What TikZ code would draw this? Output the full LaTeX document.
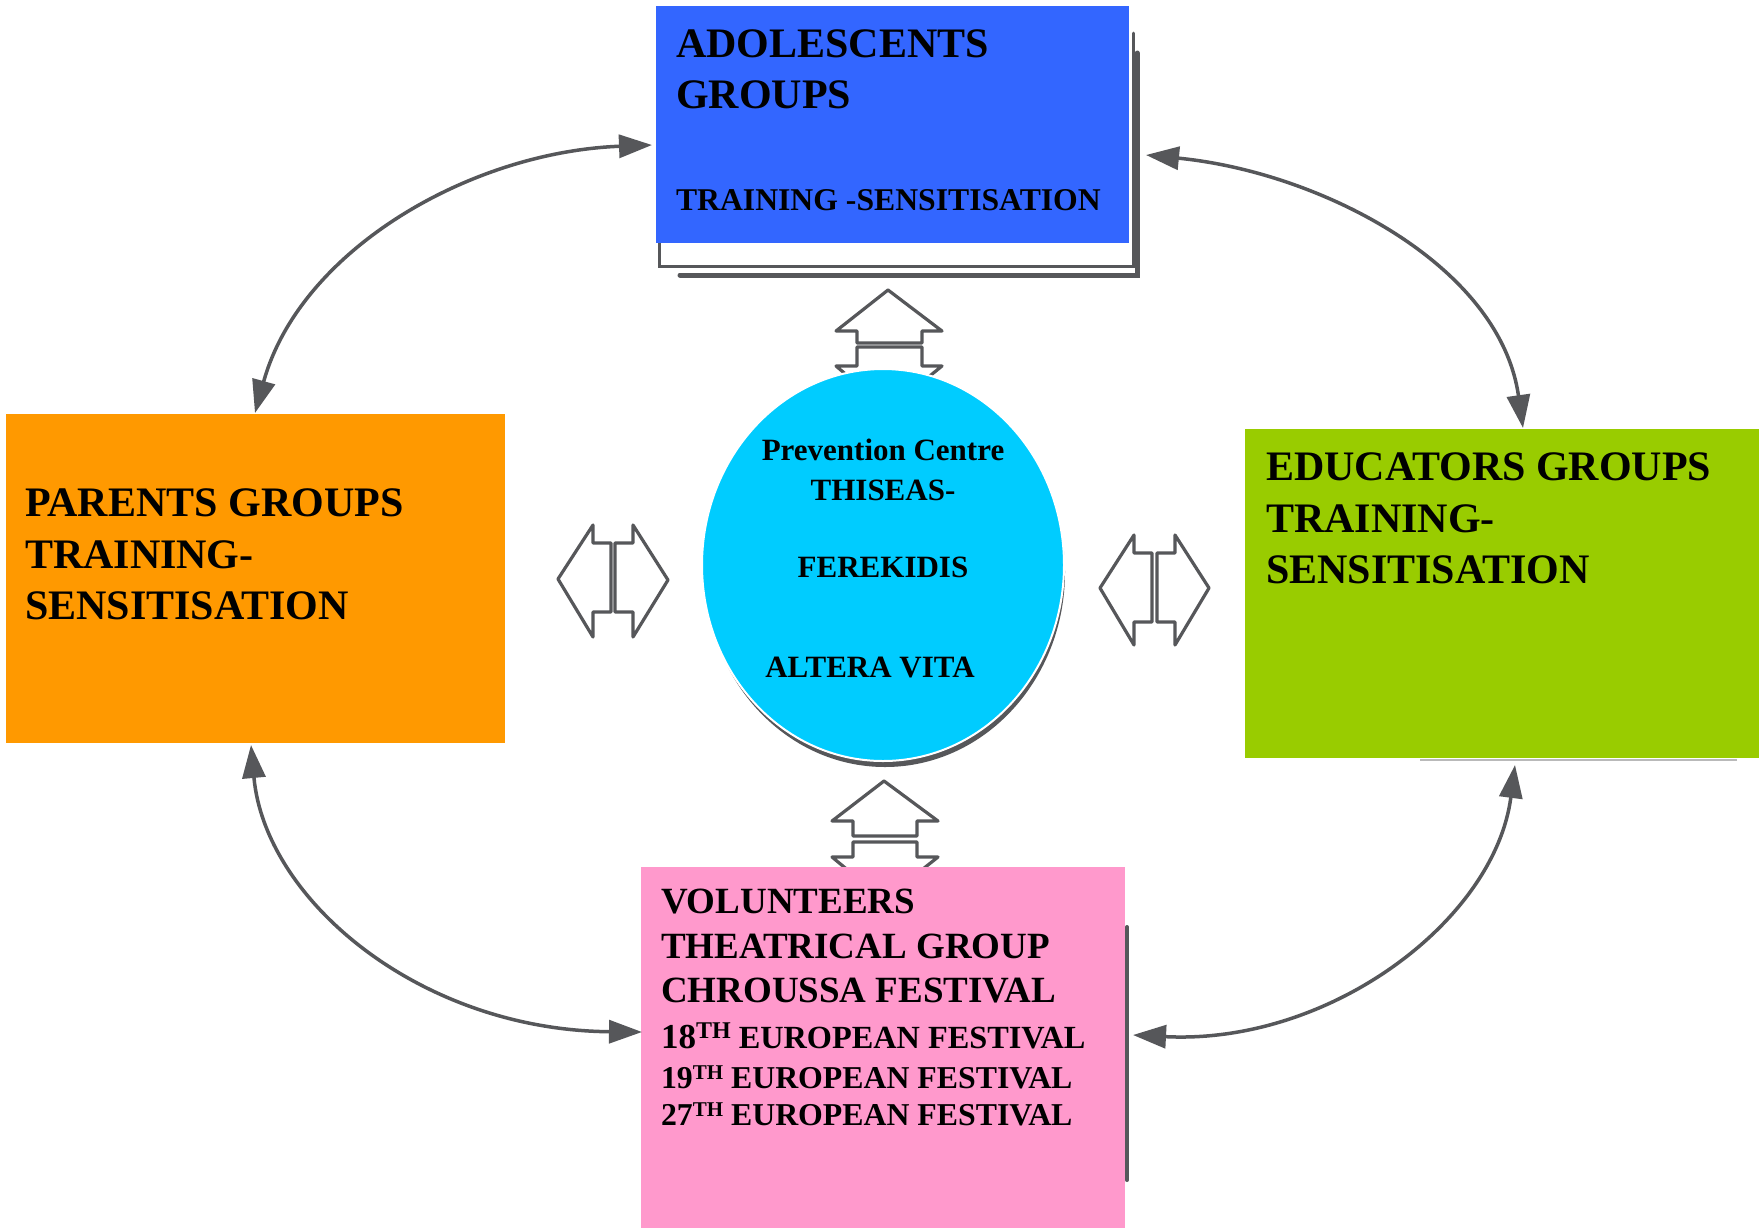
\documentclass[tikz,border=0pt]{standalone}
\usepackage{fontspec}
\setmainfont{Liberation Serif}
\usetikzlibrary{arrows.meta,shapes.geometric}
\definecolor{cblue}{HTML}{3366FF}
\definecolor{corange}{HTML}{FF9900}
\definecolor{cgreen}{HTML}{99CC00}
\definecolor{cpink}{HTML}{FF99CC}
\definecolor{ccyan}{HTML}{00CCFF}
\definecolor{cgray}{HTML}{56575A}
\begin{document}
\begin{tikzpicture}[x=1pt,y=-1pt,
  boxnode/.style={anchor=north west, inner sep=0pt, outer sep=0pt, draw=none},
  lbl/.style={anchor=base west, inner sep=0pt, outer sep=0pt},
  clbl/.style={anchor=base, inner sep=0pt, outer sep=0pt},
  fbig/.style={font=\bfseries\fontsize{42}{42}\selectfont},
  fmid/.style={font=\bfseries\fontsize{31.7}{32}\selectfont},
  fcirc/.style={font=\bfseries\fontsize{31}{32}\selectfont},
  fvol/.style={font=\bfseries\fontsize{37}{38}\selectfont},
  ffest/.style={font=\bfseries\fontsize{31.8}{32}\selectfont},
  ffestb/.style={font=\bfseries\fontsize{32.3}{33}\selectfont},
  barrow/.style={draw=cgray, line width=3.2pt, line join=round, fill=white},
  shline/.style={draw=cgray, line cap=round},
  conn/.style={draw=cgray, line width=3.5pt, {Triangle[length=33pt,width=23pt]}-{Triangle[length=33pt,width=23pt]}}]
\useasboundingbox (0,0) rectangle (1763,1227);
\fill[white] (0,0) rectangle (1763,1227);

% shadows of top box
\draw[shline, line width=3pt] (659,243) -- (659,266) -- (1133,266) -- (1133,33);
\draw[shline, line width=5pt] (680,275) -- (1137,275) -- (1137,53);
% shadow of pink box
\draw[shline, line width=4pt] (1127,927) -- (1127,1180);
% shadow of green box
\draw[gray!55, line width=2pt] (1420,760) -- (1737,760);

% boxes
\node[boxnode, fill=cblue, minimum width=473pt, minimum height=237pt] (adol) at (656,6) {};
\node[boxnode, fill=corange, minimum width=499pt, minimum height=329pt] (parents) at (6,414) {};
\node[boxnode, fill=cgreen, minimum width=514pt, minimum height=329pt] (educ) at (1245,429) {};

% block arrows (top)
\draw[barrow] (857,343) -- (857,331) -- (836,331) -- (888,290) -- (942,331) -- (922,331) -- (922,343) -- cycle;
\draw[barrow] (857,347) -- (922,347) -- (922,366) -- (942,366) -- (888,410) -- (836,366) -- (857,366) -- cycle;
% block arrows (bottom)
\draw[barrow] (853,836) -- (853,821) -- (832,821) -- (884,781) -- (938,821) -- (917,821) -- (917,836) -- cycle;
\draw[barrow] (853,842) -- (917,842) -- (917,857) -- (938,857) -- (884,900) -- (832,857) -- (853,857) -- cycle;
% block arrows (left)
\draw[barrow] (558,579) -- (593,525) -- (593,543) -- (611,543) -- (611,612) -- (593,612) -- (593,637) -- cycle;
\draw[barrow] (668,580) -- (633,525) -- (633,543) -- (615,543) -- (615,612) -- (633,612) -- (633,637) -- cycle;
% block arrows (right)
\draw[barrow] (1100,588) -- (1134,535) -- (1134,553) -- (1152,553) -- (1152,622) -- (1134,622) -- (1134,645) -- cycle;
\draw[barrow] (1209,588) -- (1175,535) -- (1175,553) -- (1157,553) -- (1157,622) -- (1175,622) -- (1175,645) -- cycle;

% centre circle with shadow
\fill[cgray] (885,572) ellipse [x radius=180pt, y radius=195pt];
\node[ellipse, fill=ccyan, draw=white, line width=2pt, minimum width=362pt, minimum height=392pt, inner sep=0pt] (centre) at (883,565) {};

% pink box (over bottom block arrow)
\node[boxnode, fill=cpink, minimum width=484pt, minimum height=362pt] (volun) at (641,867) {};

% texts: adolescents
\node[lbl, fbig] (t1) at (676,57) {ADOLESCENTS};
\node[lbl, fbig] (t2) at (676,108) {GROUPS};
\node[lbl, fmid] (t3) at (676,210) {TRAINING -SENSITISATION};
% parents
\node[lbl, fbig] (p1) at (25,516) {PARENTS GROUPS};
\node[lbl, fbig] (p2) at (25,568) {TRAINING-};
\node[lbl, fbig] (p3) at (25,619) {SENSITISATION};
% educators
\node[lbl, fbig] (e1) at (1266,480) {EDUCATORS GROUPS};
\node[lbl, fbig] (e2) at (1266,532) {TRAINING-};
\node[lbl, fbig] (e3) at (1266,583) {SENSITISATION};
% centre
\node[clbl, fcirc] (c1) at (883,460) {Prevention Centre};
\node[clbl, fcirc] (c2) at (883,500) {THISEAS-};
\node[clbl, fcirc] (c3) at (883,577) {FEREKIDIS};
\node[clbl, fcirc] (c4) at (870,677) {ALTERA VITA};
% volunteers
\node[lbl, fvol] (v1) at (661,913) {VOLUNTEERS};
\node[lbl, fvol] (v2) at (661,958) {THEATRICAL GROUP};
\node[lbl, fvol] (v3) at (661,1002) {CHROUSSA FESTIVAL};
\node[lbl, ffestb] (v4) at (661,1048) {{\fontsize{35}{36}\selectfont 18}\raisebox{10pt}{\fontsize{24}{24}\selectfont TH} EUROPEAN FESTIVAL};
\node[lbl, ffest] (v5) at (661,1088) {19\raisebox{9pt}{\fontsize{21}{21}\selectfont TH} EUROPEAN FESTIVAL};
\node[lbl, ffest] (v6) at (661,1125) {27\raisebox{9pt}{\fontsize{21}{21}\selectfont TH} EUROPEAN FESTIVAL};

% curved connectors
\coordinate (a1s) at (652,145);
\coordinate (a1e) at (255,413);
\coordinate (a2s) at (1146,155);
\coordinate (a2e) at (1523,428);
\coordinate (a3s) at (251,745);
\coordinate (a3e) at (642,1032);
\coordinate (a4s) at (1515,765);
\coordinate (a4e) at (1133,1035);
\draw[conn] (a1s) .. controls (470,152) and (300,250) .. (a1e);
\draw[conn] (a2s) .. controls (1320,172) and (1500,265) .. (a2e);
\draw[conn] (a3s) .. controls (265,900) and (420,1030) .. (a3e);
\draw[conn] (a4s) .. controls (1495,920) and (1330,1045) .. (a4e);
\end{tikzpicture}
\end{document}
